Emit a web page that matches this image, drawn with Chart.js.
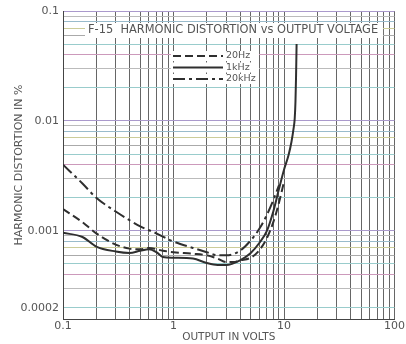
<!DOCTYPE html>
<html>
<head>
<meta charset="utf-8">
<script src="https://cdn.jsdelivr.net/npm/chart.js@4/dist/chart.umd.min.js"></script>
<style>
  html, body { margin: 0; padding: 0; background: #fff; }
  #wrap { width: 406px; height: 344px; position: relative; }
</style>
</head>
<body>
<div id="wrap"><canvas id="grafico"></canvas></div>
<script>
// valores (tensão em V, distorção em %)
const volts20Hz = [0.1, 0.15, 0.2, 0.3, 0.4, 0.5, 0.6, 0.8, 1, 1.5, 2, 2.5, 3, 3.5, 4, 5, 6, 7, 8, 9, 10];
const dist20Hz  = [0.00158, 0.0012, 0.00095, 0.00075, 0.00069, 0.00068, 0.0007, 0.00066, 0.00064, 0.00062, 0.0006, 0.00056, 0.00052, 0.00052, 0.00054, 0.00057, 0.00067, 0.00086, 0.0012, 0.0018, 0.0028];

const volts1k = [0.1, 0.15, 0.2, 0.3, 0.4, 0.5, 0.6, 0.7, 0.8, 1, 1.5, 2, 2.5, 3, 4, 5, 6, 7, 8, 9, 10, 11, 11.7, 12.2, 12.5, 12.7, 12.85, 13];
const dist1k  = [0.00096, 0.00088, 0.00072, 0.00065, 0.00063, 0.00066, 0.00068, 0.00064, 0.00058, 0.00057, 0.00056, 0.00051, 0.00049, 0.00049, 0.00054, 0.00063, 0.00078, 0.001, 0.0015, 0.0024, 0.0036, 0.0049, 0.0065, 0.0085, 0.0105, 0.015, 0.025, 0.05];

const volts20k = [0.1, 0.15, 0.2, 0.3, 0.4, 0.5, 0.7, 1, 1.5, 2, 2.5, 3, 4, 5, 6, 7, 8, 9];
const dist20k  = [0.004, 0.0027, 0.002, 0.0015, 0.00125, 0.0011, 0.00095, 0.0008, 0.0007, 0.00064, 0.0006, 0.0006, 0.00066, 0.00082, 0.00105, 0.0014, 0.0019, 0.0026];

const legendas = ['20Hz', '1kHz', '20kHz'];
const tracos = [[8, 4], [], [12, 4, 3, 4]];

const xTickLabels = ['0.1', '1', '10', '100'];
const yTickLabels = ['0.1', '0.01', '0.001', '0.0002'];
const tituloGrafico = 'F-15  HARMONIC DISTORTION vs OUTPUT VOLTAGE';

function pares(xs, ys) {
    return xs.map((x, i) => ({ x: x, y: ys[i] }));
}

// posições das linhas de grade (log 1..9 por década)
function ticksLog(min, max) {
    const out = [];
    for (let d = -5; d <= 3; d++) {
        for (let m = 1; m <= 9; m++) {
            const v = parseFloat((m * Math.pow(10, d)).toPrecision(3));
            if (v >= min - 1e-12 && v <= max + 1e-12) out.push(v);
        }
    }
    return out;
}

const fonte = 'DejaVu Sans';
const corTexto = '#555';
const corLinha = '#2f2f2f';
const tintas = ['#9cc', '#bbb', '#c9b', '#9cc', '#aaa', '#cc9', '#9bc', '#bbb', '#a9c'];

const pluginTextos = {
    id: 'textos',
    afterDatasetsDraw(chart) {
        const ctx = chart.ctx;
        const a = chart.chartArea;
        ctx.save();
        ctx.font = '11.4px "' + fonte + '"';
        ctx.textBaseline = 'middle';
        // título dentro da área
        const tw = ctx.measureText(tituloGrafico).width;
        ctx.fillStyle = '#fff';
        ctx.fillRect(a.left + 22, a.top + 12, tw + 8, 15);
        ctx.fillStyle = corTexto;
        ctx.fillText(tituloGrafico, a.left + 25, a.top + 19);
        // legenda
        ctx.font = '9.5px "' + fonte + '"';
        const x0 = a.left + 110, y0 = a.top + 45;
        legendas.forEach((t, i) => {
            const y = y0 + i * 11.5;
            ctx.fillStyle = '#fff';
            ctx.fillRect(x0 - 2, y - 5, 88, 10);
            ctx.strokeStyle = corLinha;
            ctx.lineWidth = 2;
            ctx.setLineDash(tracos[i]);
            ctx.beginPath();
            ctx.moveTo(x0, y);
            ctx.lineTo(x0 + 50, y);
            ctx.stroke();
            ctx.setLineDash([]);
            ctx.fillStyle = corTexto;
            ctx.fillText(t, x0 + 53, y);
        });
        ctx.restore();
    }
};

const datasets = [
    { label: legendas[0], data: pares(volts20Hz, dist20Hz), borderDash: tracos[0] },
    { label: legendas[1], data: pares(volts1k, dist1k), borderDash: tracos[1] },
    { label: legendas[2], data: pares(volts20k, dist20k), borderDash: tracos[2] }
].map(d => Object.assign(d, {
    borderColor: corLinha,
    borderWidth: 2,
    pointRadius: 0,
    cubicInterpolationMode: 'monotone',
    fill: false
}));

new Chart(document.getElementById('grafico').getContext('2d'), {
    type: 'line',
    data: { datasets: datasets },
    plugins: [pluginTextos],
    options: {
        responsive: true,
        maintainAspectRatio: false,
        animation: false,
        layout: { padding: { top: 11, right: 11, left: 0, bottom: 0 } },
        plugins: {
            legend: { display: false },
            tooltip: { enabled: false }
        },
        scales: {
            x: {
                type: 'logarithmic',
                min: 0.1,
                max: 100,
                afterBuildTicks(scale) {
                    scale.ticks = ticksLog(0.1, 100).map(v => ({ value: v }));
                },
                afterFit(scale) { scale.height = 25; },
                ticks: {
                    autoSkip: false,
                    maxRotation: 0,
                    padding: 1,
                    color: corTexto,
                    font: { family: fonte, size: 11 },
                    callback(v) {
                        const s = String(parseFloat(Number(v).toPrecision(3)));
                        return xTickLabels.includes(s) ? s : '';
                    }
                },
                grid: { color: '#666', lineWidth: 1, drawTicks: false },
                border: { color: '#444', width: 1 },
                title: {
                    display: true,
                    text: 'OUTPUT IN VOLTS',
                    color: corTexto,
                    font: { family: fonte, size: 10.5 },
                    padding: { top: -5, bottom: 0 }
                }
            },
            y: {
                type: 'logarithmic',
                min: 0.000158,
                max: 0.1,
                afterBuildTicks(scale) {
                    scale.ticks = ticksLog(0.0002, 0.1).map(v => ({ value: v }));
                },
                afterFit(scale) { scale.width = 63; },
                ticks: {
                    autoSkip: false,
                    padding: 4,
                    color: corTexto,
                    font: { family: fonte, size: 11 },
                    callback(v) {
                        const s = String(parseFloat(Number(v).toPrecision(3)));
                        return yTickLabels.includes(s) ? s : '';
                    }
                },
                grid: {
                    color: c => tintas[c.index % tintas.length],
                    lineWidth: 1,
                    drawTicks: false
                },
                border: { color: '#444', width: 1 },
                title: {
                    display: true,
                    text: 'HARMONIC DISTORTION IN %',
                    color: corTexto,
                    font: { family: fonte, size: 11 },
                    padding: { top: 13, bottom: 0 }
                }
            }
        }
    }
});
</script>
</body>
</html>
